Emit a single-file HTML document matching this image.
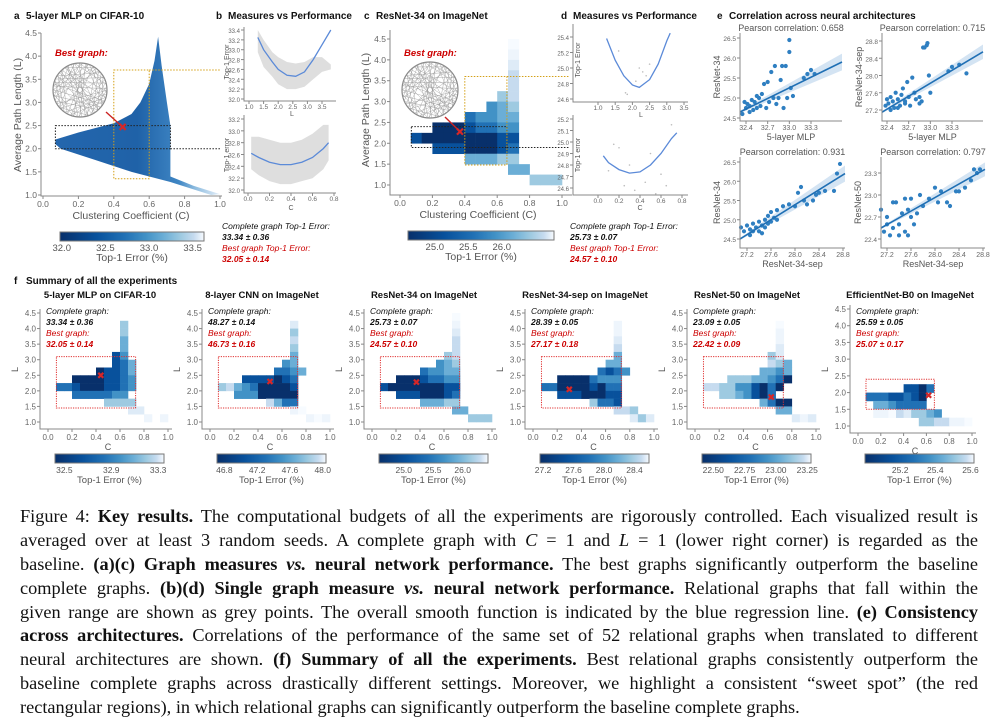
<!DOCTYPE html>
<html><head><meta charset="utf-8">
<style>
html,body{margin:0;padding:0;background:#fff;}
body{width:998px;height:727px;position:relative;overflow:hidden;font-family:"Liberation Sans",Arial,sans-serif;}
#fig{position:absolute;left:0;top:0;}
#caption{position:absolute;left:20px;top:505px;width:958px;font-family:"Liberation Serif","Times New Roman",serif;font-size:18.3px;line-height:23.9px;color:#111;}
#caption div{text-align:justify;text-align-last:justify;white-space:nowrap;height:23.9px;}
#caption div.last{text-align-last:left;}
</style></head>
<body>
<svg id="fig" width="998" height="495" viewBox="0 0 998 495" xmlns="http://www.w3.org/2000/svg" font-family="Liberation Sans, Arial, sans-serif">
<defs>
<linearGradient id="blues" x1="0" x2="1" y1="0" y2="0">
<stop offset="0" stop-color="#08306b"/><stop offset="0.25" stop-color="#08519c"/><stop offset="0.45" stop-color="#2171b5"/><stop offset="0.6" stop-color="#4292c6"/><stop offset="0.72" stop-color="#6baed6"/><stop offset="0.84" stop-color="#9ecae1"/><stop offset="0.93" stop-color="#c6dbef"/><stop offset="1" stop-color="#f7fbff"/>
</linearGradient>
<linearGradient id="cloudgrad" x1="0" x2="1" y1="0" y2="0">
<stop offset="0" stop-color="#2466ad"/><stop offset="0.5" stop-color="#1f62a8"/><stop offset="0.75" stop-color="#3f86c4"/><stop offset="0.85" stop-color="#8fbde0"/><stop offset="1" stop-color="#e3eef8"/>
</linearGradient>
</defs>
<g id="layer"></g>
</svg>
<div id="caption">
<div>Figure 4: <b>Key results.</b> The computational budgets of all the experiments are rigorously controlled. Each visualized result is</div>
<div>averaged over at least 3 random seeds. A complete graph with <i>C</i> = 1 and <i>L</i> = 1 (lower right corner) is regarded as the</div>
<div>baseline. <b>(a)(c) Graph measures <i>vs.</i> neural network performance.</b> The best graphs significantly outperform the baseline</div>
<div>complete graphs. <b>(b)(d) Single graph measure <i>vs.</i> neural network performance.</b> Relational graphs that fall within the</div>
<div>given range are shown as grey points. The overall smooth function is indicated by the blue regression line. <b>(e) Consistency</b></div>
<div><b>across architectures.</b> Correlations of the performance of the same set of 52 relational graphs when translated to different</div>
<div>neural architectures are shown. <b>(f) Summary of all the experiments.</b> Best relational graphs consistently outperform the</div>
<div>baseline complete graphs across drastically different settings. Moreover, we highlight a consistent “sweet spot” (the red</div>
<div class="last">rectangular regions), in which relational graphs can significantly outperform the baseline complete graphs.</div>
</div>
<script>
// ---------------- DATA ----------------
const aCloudC = [0.07,0.2,0.3,0.4,0.5,0.55,0.6,0.63,0.65,0.67,0.7,0.72,0.72,0.85,1.0,0.95,0.72,0.5,0.3,0.1,0.07];
const aCloudL = [2.2,2.35,2.45,2.55,2.75,3.0,3.4,3.9,4.42,3.8,3.0,2.5,1.4,1.2,1.02,1.0,1.28,1.5,1.75,2.0,2.1];
const bTopL = [1.3,1.5,1.8,2.0,2.3,2.6,2.9,3.2,3.5,3.8];
const bTopErr = [33.25,33.0,32.75,32.6,32.48,32.46,32.55,32.8,33.1,33.4];
const bTopUp = [33.4,33.2,32.95,32.85,32.75,32.72,32.75,32.85,32.85,32.7];
const bTopLo = [32.95,32.65,32.45,32.3,32.2,32.2,32.25,32.4,32.55,32.6];
const bBotC = [0.03,0.1,0.2,0.3,0.4,0.5,0.6,0.7,0.75];
const bBotErr = [32.62,32.55,32.47,32.43,32.43,32.47,32.55,32.7,32.8];
const bBotUp = [32.9,32.9,32.85,32.8,32.8,32.85,32.95,33.1,33.1];
const bBotLo = [32.35,32.25,32.15,32.1,32.1,32.15,32.2,32.35,32.5];
const dTopL = [1.25,1.5,1.75,2.0,2.2,2.5,2.75,3.0,3.1];
const dTopErr = [25.38,25.1,24.9,24.78,24.75,24.85,25.05,25.35,25.45];
const dTopPtL = [1.6,2.1,2.3,2.4,2.5,1.8,1.85,2.2];
const dTopPtE = [25.22,24.83,24.95,24.9,25.05,24.68,24.66,25.0];
const dBotC = [0.05,0.1,0.2,0.3,0.4,0.5,0.6,0.7,0.75];
const dBotErr = [24.88,24.82,24.76,24.73,24.74,24.8,24.9,25.03,25.08];
const dBotPtC = [0.2,0.3,0.35,0.5,0.6,0.65,0.55,0.1,0.25,0.45,0.7,0.15];
const dBotPtE = [24.95,24.8,24.58,24.9,24.72,24.62,24.55,24.75,24.62,24.65,25.15,24.98];
const e1x=[32.35,32.38,32.4,32.42,32.45,32.48,32.5,32.52,32.55,32.58,32.6,32.62,32.65,32.68,32.7,32.72,32.75,32.78,32.8,32.82,32.85,32.88,32.9,32.92,32.95,32.97,33.0,33.0,33.02,33.05,33.2,33.25,33.3,33.35,32.45,32.55];
const e1y=[24.6,24.9,24.75,24.85,24.8,24.95,24.7,24.9,25.05,25.0,24.8,25.1,25.35,24.75,25.4,24.9,25.65,25.0,25.8,24.85,25.0,25.45,25.8,24.75,25.8,25.0,26.45,26.15,25.25,25.05,25.5,25.6,25.7,25.6,24.65,24.75];
const e2x=[32.38,32.4,32.42,32.45,32.48,32.5,32.52,32.55,32.58,32.6,32.62,32.65,32.68,32.7,32.72,32.75,32.78,32.8,32.85,32.88,32.9,32.92,32.95,32.96,32.98,33.0,33.25,33.3,33.4,33.5,32.45,32.55,32.65,32.85];
const e2y=[27.3,27.45,27.35,27.5,27.4,27.25,27.6,27.45,27.3,27.55,27.7,27.35,27.85,27.5,27.3,27.95,27.6,27.45,27.5,27.4,28.65,28.65,28.7,28.75,28.0,27.6,28.1,28.2,28.25,28.05,27.2,27.25,27.4,27.35];
const e3x=[27.1,27.15,27.2,27.25,27.3,27.3,27.35,27.4,27.4,27.45,27.5,27.5,27.55,27.55,27.6,27.6,27.65,27.7,27.7,27.8,27.9,28.0,28.05,28.1,28.15,28.2,28.3,28.35,28.4,28.5,28.65,28.7,28.75,27.25,27.45];
const e3y=[24.8,24.7,24.85,24.75,24.7,24.9,24.8,24.95,24.7,24.85,25.0,24.8,25.1,24.9,25.2,24.95,25.05,25.0,25.25,25.35,25.4,25.35,25.7,25.85,25.5,25.4,25.5,25.65,25.7,25.75,25.75,26.2,26.45,24.6,24.65];
const e4x=[27.1,27.15,27.2,27.2,27.25,27.3,27.3,27.35,27.4,27.45,27.5,27.5,27.55,27.6,27.6,27.65,27.7,27.75,27.8,27.9,28.0,28.05,28.1,28.2,28.25,28.35,28.4,28.5,28.6,28.65,28.7,28.75,27.4,27.55];
const e4y=[22.8,22.5,22.6,22.7,22.45,22.9,22.55,22.9,22.6,22.75,22.95,22.5,22.8,22.7,22.95,22.6,22.75,23.0,22.85,22.95,23.1,22.9,23.05,22.9,22.85,23.05,23.05,23.1,23.2,23.35,23.3,23.35,22.45,22.45];
const e1line=[24.65,25.9], e2line=[27.15,28.55], e3line=[24.5,26.2], e4line=[22.55,23.35];
const gridC = ["..........9....","..........8....","..........7....","..........6....","..........6....",".........56....","........345....","......23344....","...00012233....",".1000000011....","...11100012....","......44455....","..........44...","............555"];
const gridP1 = ["...............",".........5.....",".........5.....",".........4.....",".........4.....","........13.....","........124....","......01124....","...00001123....",".2210001123....","...2222233.....",".......5555....","..........77...","............8.8"];
const gridP2 = ["...............","..........7....","..........5....","..........6....","..........5....","..........4....",".........34....","........2234...","....1111012....",".5643200001....","...33300000....",".......6422....","..........89...","............898"];
const gridP3 = ["..........9....","..........8....","..........7....","..........6....","..........6....",".........56....","........345....","......23344....","...00012233....",".1000000011....","...11100012....","......44455....","..........44...","............555"];
const gridP4 = ["...............","..........8....","..........8....","..........7....","..........6....","..........4....",".........44....","........2123...","...00002333....",".2200001022....","...11100011....",".......5221....","..........665..","............757"];
const gridP5 = ["...............","..........9....","..........8....","..........8....","..........7....",".........57....",".........654...","........4434...","....55544320...",".6655331020....","...5543102.....","........4200...","..........44...","............787"];
const gridP6 = ["...............","...............","...............","...............","...............","...............","...............","...............","...............","......1102.....",".22211210......","..4432222......","..889675543....","........5566889"];
const cbTicks1=[32.5,32.9,33.3], cbTicks2=[46.8,47.2,47.6,48.0], cbTicks3=[25.0,25.5,26.0], cbTicks4=[27.2,27.6,28.0,28.4], cbTicks5=[22.50,22.75,23.00,23.25], cbTicks6=[25.2,25.4,25.6];
const cbTicksA=[32.0,32.5,33.0,33.5], cbTicksC=[25.0,25.5,26.0];
const sumTitles=["5-layer MLP on CIFAR-10","8-layer CNN on ImageNet","ResNet-34 on ImageNet","ResNet-34-sep on ImageNet","ResNet-50 on ImageNet","EfficientNet-B0 on ImageNet"];
const sumComplete=["33.34","48.27","25.73","28.39","23.09","25.59"];
const sumCompleteSd=["0.36","0.14","0.07","0.05","0.05","0.05"];
const sumBest=["32.05","46.73","24.57","27.17","22.42","25.07"];
const sumBestSd=["0.14","0.16","0.10","0.18","0.09","0.17"];
const sumBestC=[0.44,0.5,0.37,0.3,0.63,0.62];
const sumBestL=[2.5,2.3,2.28,2.05,1.8,1.92];
const Lticks=[1.0,1.5,2.0,2.5,3.0,3.5,4.0,4.5];
const Cticks=[0.0,0.2,0.4,0.6,0.8,1.0];

// ---------------- HELPERS ----------------
const NS="http://www.w3.org/2000/svg";
const layer=document.getElementById('layer');
function mk(tag,attrs,parent){const e=document.createElementNS(NS,tag);for(const k in attrs)e.setAttribute(k,attrs[k]);(parent||layer).appendChild(e);return e;}
function lin(d0,d1,r0,r1){return v=>r0+(v-d0)*(r1-r0)/(d1-d0);}
function txt(x,y,s,o){o=o||{};const e=mk('text',{x:x,y:y,'font-size':o.size||9,fill:o.fill||'#555','text-anchor':o.anchor||'middle','font-weight':o.weight||'normal','font-style':o.style||'normal'});if(o.rot)e.setAttribute('transform','rotate(-90 '+x+' '+y+')');e.textContent=s;return e;}
const blues=["#08306b","#08519c","#2171b5","#4292c6","#6baed6","#9ecae1","#c6dbef","#deebf7","#eef5fc","#f7fbff"];
function fmt(v,dec){return v.toFixed(dec);}
function axesLines(xl,yb,xr,yt){
  const a=mk('path',{d:`M${xl} ${yt} L${xl} ${yb} L${xr} ${yb}`,fill:'none',stroke:'#888','stroke-width':1});
  
  
}
function yTicks(ticks,sy,xl,dec,size){ticks.forEach(t=>{const y=sy(t);const tk=mk('line',{x1:xl-3,x2:xl,y1:y,y2:y,stroke:'#888'});const l=txt(xl-4,y+3,fmt(t,dec),{anchor:'end',size:size||9,fill:'#666'});});}
function xTicks(ticks,sx,yb,dec,size,dy){ticks.forEach(t=>{const x=sx(t);const tk=mk('line',{x1:x,x2:x,y1:yb,y2:yb+3,stroke:'#888'});const l=txt(x,yb+(dy||12),fmt(t,dec),{size:size||9,fill:'#666'});});}
function heat(grid,sx,sy){grid.forEach((row,ri)=>{const r=grid.length-1-ri;for(let k=0;k<row.length;k++){const ch=row[k];if(ch==='.')continue;const d=+ch;const c0=k/15,c1=(k+1)/15,l0=1+0.25*r,l1=l0+0.25;const cell=mk('rect',{x:sx(c0),y:sy(l1),width:sx(c1)-sx(c0)+0.3,height:sy(l0)-sy(l1)+0.3,fill:blues[d]});}});}
function colorbar(x0,x1,y,min,max,ticks,dec,size){const s=lin(min,max,x0,x1);const r=mk('rect',{x:x0,y:y,width:x1-x0,height:9,fill:'url(#blues)',stroke:'#777','stroke-width':1});ticks.forEach(t=>{const l=txt(s(t),y+19,fmt(t,dec),{size:size||9.5,fill:'#555'});});const tl=txt((x0+x1)/2,y+(size&&size>10?32:29),'Top-1 Error (%)',{size:size?size+1:10.5,fill:'#555'});}
function poly(xs,ys,sx,sy){return xs.map((v,i)=>sx(v).toFixed(1)+','+sy(ys[i]).toFixed(1)).join(' ');}
function redX(x,y,s){const g=mk('path',{d:`M${x-s} ${y-s} L${x+s} ${y+s} M${x+s} ${y-s} L${x-s} ${y+s}`,stroke:'#d62728','stroke-width':2.2});}
function graphCircle(cx,cy,r){const c=mk('circle',{cx:cx,cy:cy,r:r,fill:'#fff',stroke:'#888','stroke-width':1.2});let d='';for(let i=0;i<60;i++){const a1=i*0.41,a2=i*0.41+1.2+(i%7)*0.35;d+=`M${(cx+r*Math.cos(a1)).toFixed(1)} ${(cy+r*Math.sin(a1)).toFixed(1)} L${(cx+r*Math.cos(a2)).toFixed(1)} ${(cy+r*Math.sin(a2)).toFixed(1)} `;}const p=mk('path',{d:d,stroke:'#999','stroke-width':0.4,fill:'none'});}
function label(x,y,letter,title){const a=txt(x,y,letter,{size:10,weight:'bold',fill:'#111',anchor:'start'});const b=txt(x+12,y,title,{size:10,weight:'bold',fill:'#111',anchor:'start'});}

// ---------------- PANEL A ----------------
label(14,19,'a','5-layer MLP on CIFAR-10');
(function(){
const sx=lin(0,1,43,220), sy=lin(1,4.5,195,33);
const cloud=mk('polygon',{points:poly(aCloudC,aCloudL,sx,sy),fill:'url(#cloudgrad)'});


axesLines(41,196,222,33);
yTicks([1.0,1.5,2.0,2.5,3.0,3.5,4.0,4.5],sy,41,1,8.5);
xTicks(Cticks,sx,196,1,8.5,11);
const xl=txt(131,219,'Clustering Coefficient (C)',{size:10.5,fill:'#555'});
const yl=txt(21,115,'Average Path Length (L)',{size:10.5,fill:'#555',rot:true});
const br=mk('rect',{x:sx(0.07),y:sy(2.5),width:sx(0.72)-sx(0.07),height:sy(2.0)-sy(2.5),fill:'none',stroke:'#222','stroke-dasharray':'1.5,1.5'});
const orr=mk('rect',{x:sx(0.4),y:sy(3.7),width:sx(0.6)-sx(0.4),height:sy(1.35)-sy(3.7),fill:'none',stroke:'#d4a017','stroke-dasharray':'1.5,1.5'});
const ar1=mk('path',{d:`M${sx(0.6)} ${sy(3.7)} L221 ${sy(3.7)}`,stroke:'#d4a017','stroke-dasharray':'1.5,1.5'});
const ar2=mk('path',{d:`M${sx(0.72)} ${sy(2.0)} L221 ${sy(2.0)}`,stroke:'#222','stroke-dasharray':'1.5,1.5'});
graphCircle(80,90,27);
const bg=txt(55,56,'Best graph:',{size:9.5,weight:'bold',style:'italic',fill:'#c00',anchor:'start'});
const ra=mk('path',{d:`M${sx(0.45)} ${sy(2.47)} L106 112`,stroke:'#c22','stroke-width':1.4});
redX(sx(0.45),sy(2.47),3);
colorbar(60,204,232,31.98,33.63,cbTicksA,1,9.5);
})();

// ---------------- PANEL B ----------------
label(216,19,'b','Measures vs Performance');
(function(){
const sx=lin(1,3.5,249,322), sy=lin(32,33.4,99,30);
const band=mk('polygon',{points:poly(bTopL.concat(bTopL.slice().reverse()),bTopUp.concat(bTopLo.slice().reverse()),sx,sy),fill:'#d6d6d6',opacity:0.8});
const cv=mk('polyline',{points:poly(bTopL,bTopErr,sx,sy),fill:'none',stroke:'#5b8ad8','stroke-width':1.3});
axesLines(244,101,336,27);
yTicks([32.0,32.2,32.4,32.6,32.8,33.0,33.2,33.4],sy,244,1,6);
xTicks([1.0,1.5,2.0,2.5,3.0,3.5],sx,101,1,6.5,8);
txt(292,116,'L',{size:7,fill:'#555'});
txt(229,62,'Top-1 Error',{size:7,fill:'#555',rot:true});
const sx2=lin(0,0.8,248,334), sy2=lin(32,33.2,190,119);
const band2=mk('polygon',{points:poly(bBotC.concat(bBotC.slice().reverse()),bBotUp.concat(bBotLo.slice().reverse()),sx2,sy2),fill:'#d6d6d6',opacity:0.8});
const cv2=mk('polyline',{points:poly(bBotC,bBotErr,sx2,sy2),fill:'none',stroke:'#5b8ad8','stroke-width':1.3});
axesLines(244,193,336,115);
yTicks([32.0,32.2,32.4,32.6,32.8,33.0,33.2],sy2,244,1,6);
xTicks([0.0,0.2,0.4,0.6,0.8],sx2,193,1,6.5,8);
txt(291,210,'C',{size:7,fill:'#555'});
txt(229,155,'Top-1 error',{size:7,fill:'#555',rot:true});
const t1=txt(222,229,'Complete graph Top-1 Error:',{size:8.5,style:'italic',fill:'#111',anchor:'start'});
const t2=txt(222,240,'33.34 ± 0.36',{size:8.5,style:'italic',weight:'bold',fill:'#111',anchor:'start'});
const t3=txt(222,251,'Best graph Top-1 Error:',{size:8.5,style:'italic',fill:'#c00',anchor:'start'});
const t4=txt(222,262,'32.05 ± 0.14',{size:8.5,style:'italic',weight:'bold',fill:'#c00',anchor:'start'});
})();

// ---------------- PANEL C ----------------
label(364,19,'c','ResNet-34 on ImageNet');
(function(){
const sx=lin(0,1,400,562), sy=lin(1,4.5,185,39);
heat(gridC,sx,sy);
axesLines(390,195,572,30);
yTicks([1.0,1.5,2.0,2.5,3.0,3.5,4.0,4.5],sy,390,1,8.5);
xTicks(Cticks,sx,195,1,8.5,11);
const xl=txt(478,218,'Clustering Coefficient (C)',{size:10.5,fill:'#555'});
const yl=txt(369,110,'Average Path Length (L)',{size:10.5,fill:'#555',rot:true});
const br=mk('rect',{x:sx(0.07),y:sy(2.4),width:sx(0.66)-sx(0.07),height:sy(1.9)-sy(2.4),fill:'none',stroke:'#222','stroke-dasharray':'1.5,1.5'});
const orr=mk('rect',{x:sx(0.4),y:sy(3.6),width:sx(0.66)-sx(0.4),height:sy(1.48)-sy(3.6),fill:'none',stroke:'#d4a017','stroke-dasharray':'1.5,1.5'});
const ar1=mk('path',{d:`M${sx(0.66)} ${sy(3.6)} L569 ${sy(3.6)}`,stroke:'#d4a017','stroke-dasharray':'1.5,1.5'});
const ar2=mk('path',{d:`M${sx(0.66)} ${sy(1.9)} L569 ${sy(1.9)}`,stroke:'#222','stroke-dasharray':'1.5,1.5'});
graphCircle(430,90,28);
const bg=txt(404,56,'Best graph:',{size:9.5,weight:'bold',style:'italic',fill:'#c00',anchor:'start'});
const ra=mk('path',{d:`M${sx(0.37)} ${sy(2.28)} L445 117`,stroke:'#c22','stroke-width':1.4});
redX(sx(0.37),sy(2.28),3);
colorbar(408,554,231,24.6,26.78,cbTicksC,1,9.5);
})();

// ---------------- PANEL D ----------------
label(561,19,'d','Measures vs Performance');
(function(){
const sx=lin(1,3.5,598,684), sy=lin(24.6,25.4,99,37);
dTopPtL.forEach((v,i)=>{const p=mk('circle',{cx:sx(v),cy:sy(dTopPtE[i]),r:0.8,fill:'#bbb'});});
const cv=mk('polyline',{points:poly(dTopL,dTopErr,sx,sy),fill:'none',stroke:'#5b8ad8','stroke-width':1.3});
axesLines(573,102,688,24);
yTicks([24.6,24.8,25.0,25.2,25.4],sy,573,1,6);
xTicks([1.0,1.5,2.0,2.5,3.0,3.5],sx,102,1,6.5,8);
txt(641,117,'L',{size:7,fill:'#555'});
txt(580,60,'Top-1 Error',{size:7,fill:'#555',rot:true});
const sx2=lin(0,0.8,598,682), sy2=lin(24.6,25.2,188,119);
dBotPtC.forEach((v,i)=>{const p=mk('circle',{cx:sx2(v),cy:sy2(dBotPtE[i]),r:0.8,fill:'#bbb'});});
const cv2=mk('polyline',{points:poly(dBotC,dBotErr,sx2,sy2),fill:'none',stroke:'#5b8ad8','stroke-width':1.3});
axesLines(573,195,688,115);
yTicks([24.6,24.7,24.8,24.9,25.0,25.1,25.2],sy2,573,1,6);
xTicks([0.0,0.2,0.4,0.6,0.8],sx2,195,1,6.5,8);
txt(640,210,'C',{size:7,fill:'#555'});
txt(580,155,'Top-1 error',{size:7,fill:'#555',rot:true});
const t1=txt(570,229,'Complete graph Top-1 Error:',{size:8.5,style:'italic',fill:'#111',anchor:'start'});
const t2=txt(570,240,'25.73 ± 0.07',{size:8.5,style:'italic',weight:'bold',fill:'#111',anchor:'start'});
const t3=txt(570,251,'Best graph Top-1 Error:',{size:8.5,style:'italic',fill:'#c00',anchor:'start'});
const t4=txt(570,262,'24.57 ± 0.10',{size:8.5,style:'italic',weight:'bold',fill:'#c00',anchor:'start'});
})();

// ---------------- PANEL E ----------------
label(717,19,'e','Correlation across neural architectures');
function corr(xs,ys,line,xd,xr,yd,yr,box,xticks,yticks,xlab,ylab,pear){
  const sx=lin(xd[0],xd[1],xr[0],xr[1]), sy=lin(yd[0],yd[1],yr[0],yr[1]);
  const x0=box[0],x1=box[2],yb=box[1],yt=box[3];
  const xa=[x0,x1].map(px=>xd[0]+(px-xr[0])*(xd[1]-xd[0])/(xr[1]-xr[0]));
  const ya=[line[0],line[1]];
  const w=[0.05,0.35];
  const bandPts=`${sx(xa[0])},${sy(ya[0]+w[0]*(yd[1]-yd[0])*0.3)} ${sx(xa[1])},${sy(ya[1]+w[1]*(yd[1]-yd[0])*0.3)} ${sx(xa[1])},${sy(ya[1]-w[1]*(yd[1]-yd[0])*0.3)} ${sx(xa[0])},${sy(ya[0]-w[0]*(yd[1]-yd[0])*0.3)}`;
  const band=mk('polygon',{points:bandPts,fill:'#c6dbef',opacity:0.75});
  
  
  xs.forEach((v,i)=>{const p=mk('circle',{cx:sx(v),cy:sy(ys[i]),r:2.1,fill:'#2f7fc1'});});
  const l=mk('line',{x1:sx(xa[0]),y1:sy(ya[0]),x2:sx(xa[1]),y2:sy(ya[1]),stroke:'#1f6fb4','stroke-width':1.6});
  
  
  axesLines(x0,yb,x1,yt);
  yTicks(yticks,sy,x0,1,6.5);
  xTicks(xticks,sx,yb,1,7,9);
  const xl=txt((x0+x1)/2,yb+19,xlab,{size:9,fill:'#555'});
  const yl=txt(x0-20,(yt+yb)/2,ylab,{size:9,fill:'#555',rot:true});
  const pt=txt((x0+x1)/2,yt-2,'Pearson correlation: '+pear,{size:9,fill:'#555'});
}
corr(e1x,e1y,e1line,[32.4,33.3],[746,811],[24.5,26.5],[118,38],[740,121,842,33],[32.4,32.7,33.0,33.3],[24.5,25.0,25.5,26.0,26.5],'5-layer MLP','ResNet-34','0.658');
corr(e2x,e2y,e2line,[32.4,33.3],[887,952],[27.2,28.8],[110,41],[882,121,983,33],[32.4,32.7,33.0,33.3],[27.2,27.6,28.0,28.4,28.8],'5-layer MLP','ResNet-34-sep','0.715');
corr(e3x,e3y,e3line,[27.2,28.8],[747,843],[24.5,26.5],[239,162],[740,248,845,157],[27.2,27.6,28.0,28.4,28.8],[24.5,25.0,25.5,26.0,26.5],'ResNet-34-sep','ResNet-34','0.931');
corr(e4x,e4y,e4line,[27.2,28.8],[887,983],[22.4,23.3],[239,173],[881,248,985,157],[27.2,27.6,28.0,28.4,28.8],[22.4,22.7,23.0,23.3],'ResNet-34-sep','ResNet-50','0.797');

// ---------------- PANEL F ----------------
label(14,284,'f','Summary of all the experiments');
const sumX0=[48,210,372,533,695,858], sumX1=[168,330,492,654,816,972];
const sumYT=[313,313,313,313,313,309], sumYB=[422,422,422,422,422,426];
const sumGrids=[gridP1,gridP2,gridP3,gridP4,gridP5,gridP6];
const sumCb=[[32.42,33.35,cbTicks1,1],[46.71,48.04,cbTicks2,1],[24.58,26.43,cbTicks3,1],[27.16,28.59,cbTicks4,1],[22.41,23.28,cbTicks5,2],[25.0,25.62,cbTicks6,1]];
const sumBox=[[0.07,0.73,1.45,3.1],[0.07,0.73,1.45,3.1],[0.07,0.73,1.45,3.1],[0.07,0.73,1.45,3.1],[0.07,0.73,1.45,3.1],[0.07,0.67,1.5,2.4]];
sumTitles.forEach((t,i)=>{
  const x0=sumX0[i],x1=sumX1[i];
  const sx=lin(0,1,x0,x1), sy=lin(1,4.5,sumYB[i],sumYT[i]);
  const tt=txt(x0+52,298,t,{size:9.5,weight:'bold',fill:'#111'});
  
  
  heat(sumGrids[i],sx,sy);
  axesLines(x0-8,sumYB[i]+7,x1+4,sumYT[i]-4);
  yTicks(Lticks,sy,x0-8,1,8);
  xTicks(Cticks,sx,sumYB[i]+7,1,8,11);
  const cl=txt((x0+x1)/2,sumYB[i]+28,'C',{size:9,fill:'#555'});
  const ll=txt(x0-30,(sumYT[i]+sumYB[i])/2+2,'L',{size:9,fill:'#555',rot:true});
  const b=sumBox[i];
  const rb=mk('rect',{x:sx(b[0]),y:sy(b[3]),width:sx(b[1])-sx(b[0]),height:sy(b[2])-sy(b[3]),fill:'none',stroke:'#e03030','stroke-dasharray':'1.2,1.2'});
  
  
  redX(sx(sumBestC[i]),sy(sumBestL[i]),2.5);
  const a=txt(x0-2,314,'Complete graph:',{size:8.5,style:'italic',fill:'#111',anchor:'start'});
  const bb=txt(x0-2,325,sumComplete[i]+' ± '+sumCompleteSd[i],{size:8.5,style:'italic',weight:'bold',fill:'#111',anchor:'start'});
  const c=txt(x0-2,336,'Best graph:',{size:8.5,style:'italic',fill:'#c00',anchor:'start'});
  const d=txt(x0-2,347,sumBest[i]+' ± '+sumBestSd[i],{size:8.5,style:'italic',weight:'bold',fill:'#c00',anchor:'start'});
  const cb=sumCb[i];
  colorbar(x0+7,x0+116,454,cb[0],cb[1],cb[2],cb[3],8.5);
});
</script>
</body></html>
